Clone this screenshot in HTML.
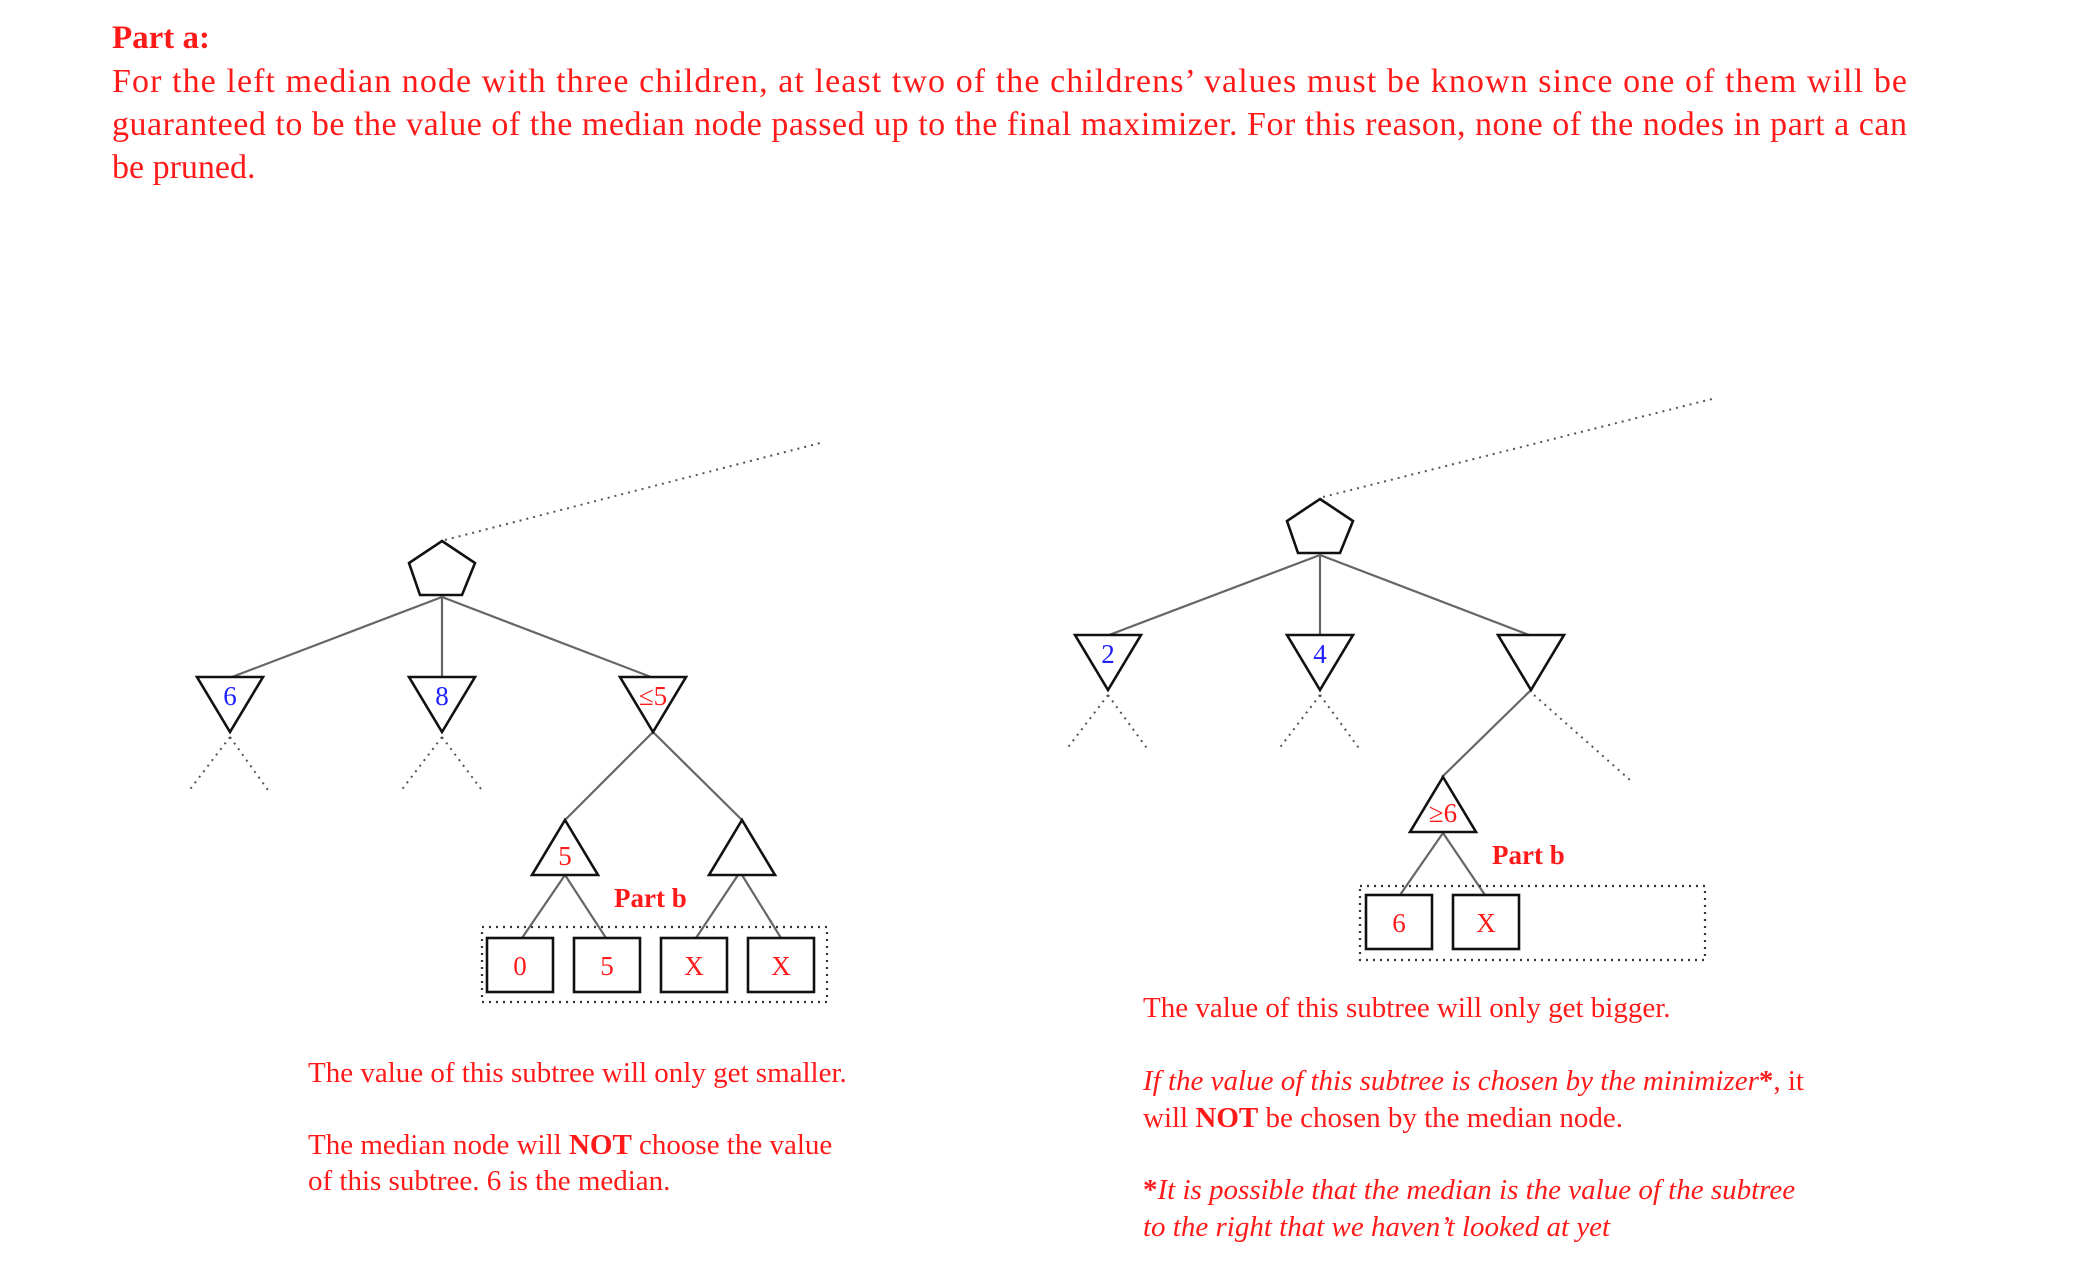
<!DOCTYPE html>
<html><head><meta charset="utf-8"><style>
html,body{margin:0;padding:0;background:#fff;}
svg{display:block;}
text{font-family:"Liberation Serif",serif;}
</style></head><body>
<svg width="2077" height="1285" viewBox="0 0 2077 1285" xmlns="http://www.w3.org/2000/svg">
<g fill="#ff1a1a">
<text x="112" y="48" font-size="33" font-weight="bold">Part a:</text>
<text x="112" y="92" font-size="34" textLength="1795" lengthAdjust="spacing">For the left median node with three children, at least two of the childrens’ values must be known since one of them will be</text>
<text x="112" y="135" font-size="34" textLength="1795" lengthAdjust="spacing">guaranteed to be the value of the median node passed up to the final maximizer. For this reason, none of the nodes in part a can</text>
<text x="112" y="178" font-size="34">be pruned.</text>
</g>
<g id="trees"></g>
<g fill="#ff1a1a" font-size="29">
<text x="308" y="1082">The value of this subtree will only get smaller.</text>
<text x="308" y="1154">The median node will <tspan font-weight="bold">NOT</tspan> choose the value</text>
<text x="308" y="1190">of this subtree. 6 is the median.</text>
<text x="1143" y="1017">The value of this subtree will only get bigger.</text>
<text x="1143" y="1090"><tspan font-style="italic">If the value of this subtree is chosen by the minimizer</tspan><tspan font-weight="bold">*</tspan>, it</text>
<text x="1143" y="1127">will <tspan font-weight="bold">NOT</tspan> be chosen by the median node.</text>
<text x="1143" y="1199" font-style="italic"><tspan font-weight="bold" font-style="normal">*</tspan>It is possible that the median is the value of the subtree</text>
<text x="1143" y="1236" font-style="italic">to the right that we haven’t looked at yet</text>
</g>
</svg>
<script>
const pentagons = [[442,541],[1320,499]];
const downTris = [[230,677,'6','#2020ff'],[442,677,'8','#2020ff'],[653,677,'≤5','#ff1a1a'],[1108,635,'2','#2020ff'],[1320,635,'4','#2020ff'],[1531,635,'','#ff1a1a']];
const upTris = [[565,820,'5','#ff1a1a'],[742,820,'',''],[1443,777,'≥6','#ff1a1a']];
const boxes = [[520,938,'0'],[607,938,'5'],[694,938,'X'],[781,938,'X'],[1399,895,'6'],[1486,895,'X']];
const solidEdges = [[442,597,232,677],[442,597,442,677],[442,597,651,677],[653,732,565,820],[653,732,742,820],[565,875,522,938],[565,875,606,938],[738,875,696,938],[742,875,781,938],
 [1320,555,1109,635],[1320,555,1320,635],[1320,555,1529,635],[1531,690,1442,777],[1443,833,1400,895],[1443,833,1485,895]];
const dottedEdges = [[445,540,824,442],[230,737,188,792],[230,737,270,793],[442,737,400,792],[442,737,484,793],
 [1323,497,1712,399],[1108,695,1066,750],[1108,695,1149,751],[1320,695,1278,750],[1320,695,1361,751],[1534,695,1630,780]];
const dottedBoxes = [[482,927,345,75],[1360,886,345,74]];
const NS='http://www.w3.org/2000/svg';
const g=document.getElementById('trees');
function mk(t,a){const e=document.createElementNS(NS,t);for(const k in a)e.setAttribute(k,a[k]);g.appendChild(e);return e;}
solidEdges.forEach(d=>{const e=mk('line',{x1:d[0],y1:d[1],x2:d[2],y2:d[3],stroke:'#666','stroke-width':2.2});

});
dottedEdges.forEach(d=>{const e=mk('line',{x1:d[0],y1:d[1],x2:d[2],y2:d[3],stroke:'#555','stroke-width':2,'stroke-dasharray':'2 5'});

});
dottedBoxes.forEach(d=>{const e=mk('rect',{x:d[0],y:d[1],width:d[2],height:d[3],fill:'none',stroke:'#333','stroke-width':2.2,'stroke-dasharray':'2 5'});

});
pentagons.forEach(d=>{const [x,y]=d;const e=mk('polygon',{points:`${x},${y} ${x+33},${y+22} ${x+20},${y+54} ${x-22},${y+54} ${x-33},${y+22}`,fill:'#fff',stroke:'#111','stroke-width':2.6});

});
downTris.forEach(d=>{const [x,y,l,c]=d;const e=mk('polygon',{points:`${x-33},${y} ${x+33},${y} ${x},${y+55}`,fill:'#fff',stroke:'#111','stroke-width':2.6});


if(l){const t=mk('text',{x:x,y:y+28,'text-anchor':'middle',fill:c,'font-size':27});t.textContent=l;

}});
upTris.forEach(d=>{const [x,y,l,c]=d;const e=mk('polygon',{points:`${x},${y} ${x+33},${y+55} ${x-33},${y+55}`,fill:'#fff',stroke:'#111','stroke-width':2.6});


if(l){const t=mk('text',{x:x,y:y+45,'text-anchor':'middle',fill:c,'font-size':27});t.textContent=l;

}});
boxes.forEach(d=>{const [x,y,l]=d;const e=mk('rect',{x:x-33,y:y,width:66,height:54,fill:'#fff',stroke:'#111','stroke-width':2.6});


const t=mk('text',{x:x,y:y+37,'text-anchor':'middle',fill:'#ff1a1a','font-size':27});t.textContent=l;

});
[[614,907],[1492,864]].forEach(d=>{const t=mk('text',{x:d[0],y:d[1],fill:'#ff1a1a','font-size':27,'font-weight':'bold'});t.textContent='Part b';

});
</script>
</body></html>
